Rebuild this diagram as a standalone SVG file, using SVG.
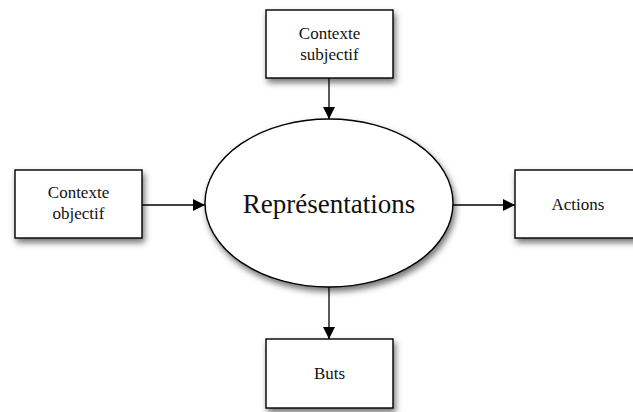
<svg xmlns="http://www.w3.org/2000/svg" width="633" height="412" viewBox="0 0 633 412">
<style>
.box{fill:#fff;stroke:#000;stroke-width:1.4;filter:url(#sh)}
.lbl{font-family:"Liberation Serif","Times New Roman",serif;font-size:17px;fill:#111;text-anchor:middle}
.big{font-size:27px}
.conn{stroke:#000;stroke-width:1.3;fill:none;marker-end:url(#ah)}
</style>
<defs>
<filter id="sh" x="-20%" y="-20%" width="150%" height="150%">
<feDropShadow dx="2" dy="4" stdDeviation="3" flood-color="#000" flood-opacity="0.55"/>
</filter>
<marker id="ah" viewBox="0 0 12 12" refX="12" refY="6" markerWidth="12" markerHeight="12" markerUnits="userSpaceOnUse" orient="auto">
<path d="M0,0 L12,6 L0,12 z" fill="#000"/>
</marker>
</defs>
<g id="connectors">
<line class="conn" x1="329" y1="78" x2="329" y2="119"/>
<line class="conn" x1="142" y1="205" x2="205" y2="205"/>
<line class="conn" x1="453" y1="205" x2="515" y2="205"/>
<line class="conn" x1="329" y1="287" x2="329" y2="339"/>
</g>
<g id="ctx-subjectif">
<rect class="box" x="266" y="10" width="127" height="68"/>
<text class="lbl" x="329.5" y="39">Contexte</text>
<text class="lbl" x="329.5" y="60">subjectif</text>
</g>
<g id="ctx-objectif">
<rect class="box" x="15" y="170" width="127" height="68"/>
<text class="lbl" x="78.5" y="198">Contexte</text>
<text class="lbl" x="78.5" y="219">objectif</text>
</g>
<g id="representations">
<ellipse class="box" cx="329" cy="203" rx="124" ry="84"/>
<text class="lbl big" x="329" y="213">Représentations</text>
</g>
<g id="actions">
<rect class="box" x="515" y="170" width="127" height="68"/>
<text class="lbl" x="578" y="210">Actions</text>
</g>
<g id="buts">
<rect class="box" x="266" y="339" width="127" height="69"/>
<text class="lbl" x="329.5" y="379">Buts</text>
</g>
</svg>
